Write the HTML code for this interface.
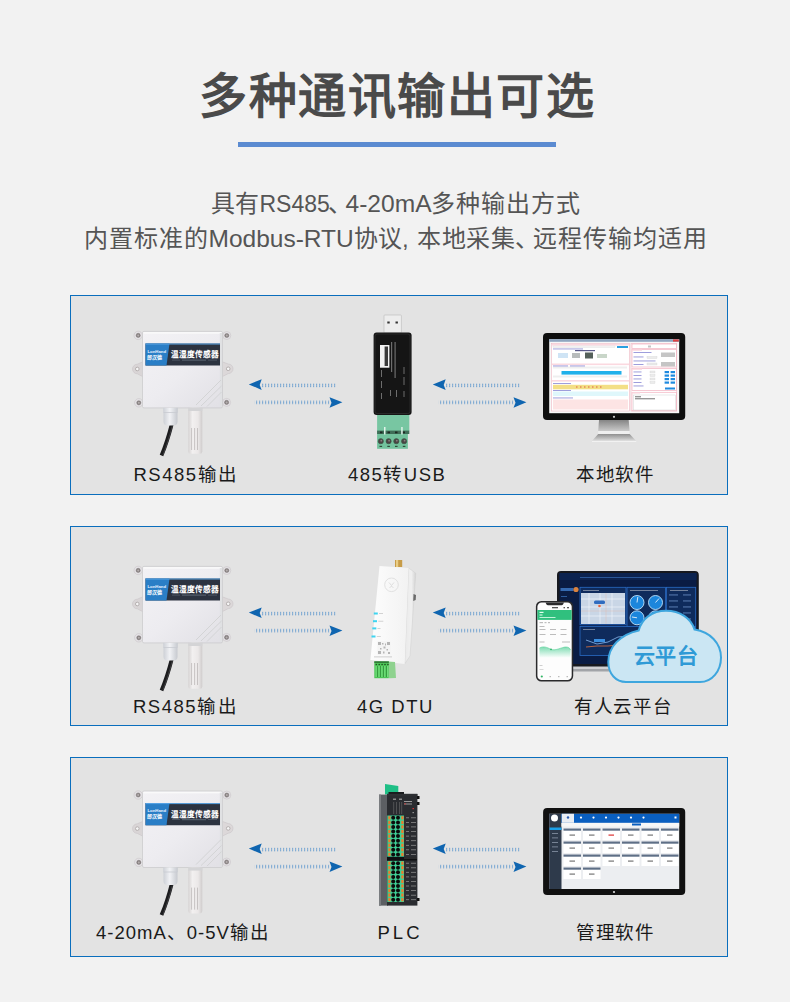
<!DOCTYPE html>
<html lang="zh-CN"><head><meta charset="utf-8">
<style>
html,body{margin:0;padding:0;}
body{width:790px;height:1002px;background:#f2f2f2;position:relative;overflow:hidden;font-family:"Liberation Sans",sans-serif;}
.t{position:absolute;white-space:nowrap;}
.title{left:199px;top:62px;font-size:48px;font-weight:bold;color:#4a4a4a;line-height:70px;letter-spacing:1.55px;}
.uline{position:absolute;left:238px;top:142px;width:318px;height:5px;background:#5b8bd1;}
.sub{font-size:24px;color:#555;line-height:30px;}
.panel{position:absolute;left:70px;width:656px;height:198px;border:1px solid #0a6ebd;background:#e3e3e3;}
.lab{font-size:18.5px;color:#1a1a1a;line-height:20px;letter-spacing:1.5px;}
svg{position:absolute;left:0;top:0;}
</style></head><body>
<div class="t title">多种通讯输出可选</div>
<div class="uline"></div>
<div class="t sub" style="left:210.5px;top:189px;">具有</div>
<div class="t sub" style="left:259.5px;top:189px;font-size:23px">RS485</div>
<div class="t sub" style="left:328px;top:189px;">、</div>
<div class="t sub" style="left:345.5px;top:189px;font-size:24.6px">4-20mA</div>
<div class="t sub" style="left:431px;top:189px;letter-spacing:1.1px">多种输出方式</div>
<div class="t sub" style="left:84px;top:224px;letter-spacing:1.1px">内置标准的</div>
<div class="t sub" style="left:208.5px;top:224px;font-size:24.5px">Modbus-RTU</div>
<div class="t sub" style="left:354px;top:224px;">协议,</div>
<div class="t sub" style="left:417px;top:224px;letter-spacing:0.5px">本地采集、</div>
<div class="t sub" style="left:532.5px;top:224px;letter-spacing:1.05px">远程传输均适用</div>

<div class="panel" style="top:295px"></div>
<div class="panel" style="top:526px"></div>
<div class="panel" style="top:757px"></div>

<div class="t lab" style="left:133.5px;top:465px;">RS485输出</div>
<div class="t lab" style="left:348px;top:465px;">485转USB</div>
<div class="t lab" style="left:576px;top:465px;letter-spacing:0.5px">本地软件</div>
<div class="t lab" style="left:133px;top:697px;">RS485输出</div>
<div class="t lab" style="left:357px;top:697px;">4G DTU</div>
<div class="t lab" style="left:574px;top:697px;letter-spacing:0.7px">有人云平台</div>
<div class="t lab" style="left:96px;top:923px;letter-spacing:1px">4-20mA、0-5V输出</div>
<div class="t lab" style="left:377.5px;top:923px;letter-spacing:3px">PLC</div>
<div class="t lab" style="left:576px;top:923px;letter-spacing:0.5px">管理软件</div>

<svg width="790" height="1002" viewBox="0 0 790 1002">
<defs>
<pattern id="dots" width="3" height="4" patternUnits="userSpaceOnUse">
<rect x="1" y="0.4" width="1.2" height="1.1" fill="#3f86c8"/>
<rect x="1" y="2.4" width="1.2" height="1.1" fill="#3f86c8"/>
</pattern>

<linearGradient id="boxg" x1="0" y1="0" x2="0.9" y2="1">
<stop offset="0" stop-color="#f3f2f5"/><stop offset="0.55" stop-color="#edecf0"/><stop offset="1" stop-color="#e2e1e6"/>
</linearGradient>
<linearGradient id="probeg" x1="0" y1="0" x2="1" y2="0">
<stop offset="0" stop-color="#d6d3d3"/><stop offset="0.3" stop-color="#f2f0f0"/><stop offset="0.7" stop-color="#ebe8e8"/><stop offset="1" stop-color="#cfcccc"/>
</linearGradient>
<linearGradient id="glandg" x1="0" y1="0" x2="1" y2="0">
<stop offset="0" stop-color="#cdd0d6"/><stop offset="0.45" stop-color="#f1f2f5"/><stop offset="1" stop-color="#c6c9cf"/>
</linearGradient>

</defs>
<!-- ARROWS -->
<g transform="translate(0 0)">
<path d="M248.8 384.4 L261.7 379.3 L259.7 384.9 L261.7 389.9 Z" fill="#0f65b0"/>
<rect x="261" y="383.6" width="75" height="3.6" fill="url(#dots)"/>
<rect x="254.5" y="400.6" width="75" height="3.6" fill="url(#dots)"/>
<path d="M342.4 402.3 L329.5 397.2 L331.5 402.8 L329.5 407.8 Z" fill="#0f65b0"/>
</g>
<g transform="translate(184 0)">
<path d="M248.8 384.4 L261.7 379.3 L259.7 384.9 L261.7 389.9 Z" fill="#0f65b0"/>
<rect x="261" y="383.6" width="75" height="3.6" fill="url(#dots)"/>
<rect x="254.5" y="400.6" width="75" height="3.6" fill="url(#dots)"/>
<path d="M342.4 402.3 L329.5 397.2 L331.5 402.8 L329.5 407.8 Z" fill="#0f65b0"/>
</g>
<g transform="translate(0 228.2)">
<path d="M248.8 384.4 L261.7 379.3 L259.7 384.9 L261.7 389.9 Z" fill="#0f65b0"/>
<rect x="261" y="383.6" width="75" height="3.6" fill="url(#dots)"/>
<rect x="254.5" y="400.6" width="75" height="3.6" fill="url(#dots)"/>
<path d="M342.4 402.3 L329.5 397.2 L331.5 402.8 L329.5 407.8 Z" fill="#0f65b0"/>
</g>
<g transform="translate(184 228.2)">
<path d="M248.8 384.4 L261.7 379.3 L259.7 384.9 L261.7 389.9 Z" fill="#0f65b0"/>
<rect x="261" y="383.6" width="75" height="3.6" fill="url(#dots)"/>
<rect x="254.5" y="400.6" width="75" height="3.6" fill="url(#dots)"/>
<path d="M342.4 402.3 L329.5 397.2 L331.5 402.8 L329.5 407.8 Z" fill="#0f65b0"/>
</g>
<g transform="translate(0 464.2)">
<path d="M248.8 384.4 L261.7 379.3 L259.7 384.9 L261.7 389.9 Z" fill="#0f65b0"/>
<rect x="261" y="383.6" width="75" height="3.6" fill="url(#dots)"/>
<rect x="254.5" y="400.6" width="75" height="3.6" fill="url(#dots)"/>
<path d="M342.4 402.3 L329.5 397.2 L331.5 402.8 L329.5 407.8 Z" fill="#0f65b0"/>
</g>
<g transform="translate(184 464.2)">
<path d="M248.8 384.4 L261.7 379.3 L259.7 384.9 L261.7 389.9 Z" fill="#0f65b0"/>
<rect x="261" y="383.6" width="75" height="3.6" fill="url(#dots)"/>
<rect x="254.5" y="400.6" width="75" height="3.6" fill="url(#dots)"/>
<path d="M342.4 402.3 L329.5 397.2 L331.5 402.8 L329.5 407.8 Z" fill="#0f65b0"/>
</g>
<!-- DEVICES -->
<g transform="translate(0 0)">
<g fill="#e4e2e5" stroke="#c9c5c7" stroke-width="0.6">
<circle cx="138.2" cy="335.4" r="4.2"/><circle cx="138.8" cy="402.8" r="4.2"/>
<circle cx="226.8" cy="335.5" r="4"/><circle cx="226.6" cy="402.4" r="4"/>
<path d="M143.5 361.5 L137.3 364.2 A4.8 4.8 0 0 0 137.3 373.8 L143.5 377 Z" fill="#d9d5d6"/>
<path d="M221.5 361.5 L228.2 364 A4.8 4.8 0 0 1 228.2 373.6 L221.5 377 Z" fill="#dcd8d9"/>
</g>
<g fill="#8a8484" stroke="#6e6868" stroke-width="0.4">
<circle cx="138.2" cy="335.4" r="2.1"/><circle cx="138.8" cy="402.8" r="2.1"/><circle cx="226.8" cy="335.5" r="2.1"/><circle cx="226.6" cy="402.4" r="2.1"/>
</g>
<g fill="#b4aeae"><circle cx="138.2" cy="335.4" r="1"/><circle cx="138.8" cy="402.8" r="1"/><circle cx="226.8" cy="335.5" r="1"/><circle cx="226.6" cy="402.4" r="1"/></g>
<g fill="#f6f6f6" stroke="#a9a3a3" stroke-width="0.8"><circle cx="137.3" cy="369" r="1.8"/><circle cx="228.2" cy="368.8" r="1.8"/></g>
<rect x="142.5" y="331.4" width="80" height="76.5" rx="1.5" fill="url(#boxg)" stroke="#cbcbcd" stroke-width="0.8"/>
<rect x="143.5" y="332.2" width="78" height="1.5" fill="#fafafa"/>
<rect x="219.8" y="333" width="2.2" height="74" fill="#e0e1e3"/>
<path d="M145.5 343.5 H220 V365.6 H145.5 Z" fill="#2c3340"/>
<path d="M145.5 343.5 H169.5 L166.5 365.6 H145.5 Z" fill="#2a7ec6"/>
<rect x="145.5" y="343.5" width="74.5" height="1" fill="#5aa6e6"/>
<text x="170.8" y="357" font-size="7.7" font-weight="bold" fill="#fff">温湿度传感器</text>
<rect x="172" y="359.8" width="8" height="0.5" fill="#6d7884"/><rect x="182" y="359.6" width="24" height="1" fill="#5d6874"/><rect x="208" y="359.8" width="9" height="0.5" fill="#6d7884"/>
<text x="147.5" y="352.5" font-size="4.3" font-weight="bold" fill="#e8f2ff">LonHand</text>
<text x="147" y="358.5" font-size="5" font-weight="bold" fill="#fff">郎汉德</text>
<g stroke="#d0d1d3" stroke-width="0.9" fill="none">
<path d="M196 405 L221 380"/><path d="M201 406 L221.5 386"/><path d="M207 406.5 L221.5 392"/>
</g>
<path d="M171.8 424 C 169.5 433, 165.5 446, 161.5 455.5" stroke="#1c1c1e" stroke-width="3.8" fill="none"/>
<path d="M172.3 426 C 170 435, 166.5 446, 163 455" stroke="#4a4a4e" stroke-width="0.7" fill="none"/>
<rect x="163.2" y="407.8" width="14.6" height="4.4" fill="url(#glandg)"/>
<path d="M163.5 412 H177.5 V421.5 Q177.5 425.5 173.5 425.5 H167.5 Q163.5 425.5 163.5 421.5 Z" fill="url(#glandg)"/>
<rect x="163.5" y="412" width="14" height="0.8" fill="#c8cbd1"/>
<path d="M188.3 407.8 H202.3 V451.5 Q202.3 453.8 200 453.8 H190.6 Q188.3 453.8 188.3 451.5 Z" fill="url(#probeg)"/>
<rect x="188.3" y="407.8" width="14" height="3.2" fill="#d4d4d6"/>
<g stroke="#bdb7b7" stroke-width="0.8"><path d="M191.6 428 V450"/><path d="M194.6 428 V450"/><path d="M197.5 428 V450"/></g>
</g>
<g transform="translate(0 235)">
<g fill="#e4e2e5" stroke="#c9c5c7" stroke-width="0.6">
<circle cx="138.2" cy="335.4" r="4.2"/><circle cx="138.8" cy="402.8" r="4.2"/>
<circle cx="226.8" cy="335.5" r="4"/><circle cx="226.6" cy="402.4" r="4"/>
<path d="M143.5 361.5 L137.3 364.2 A4.8 4.8 0 0 0 137.3 373.8 L143.5 377 Z" fill="#d9d5d6"/>
<path d="M221.5 361.5 L228.2 364 A4.8 4.8 0 0 1 228.2 373.6 L221.5 377 Z" fill="#dcd8d9"/>
</g>
<g fill="#8a8484" stroke="#6e6868" stroke-width="0.4">
<circle cx="138.2" cy="335.4" r="2.1"/><circle cx="138.8" cy="402.8" r="2.1"/><circle cx="226.8" cy="335.5" r="2.1"/><circle cx="226.6" cy="402.4" r="2.1"/>
</g>
<g fill="#b4aeae"><circle cx="138.2" cy="335.4" r="1"/><circle cx="138.8" cy="402.8" r="1"/><circle cx="226.8" cy="335.5" r="1"/><circle cx="226.6" cy="402.4" r="1"/></g>
<g fill="#f6f6f6" stroke="#a9a3a3" stroke-width="0.8"><circle cx="137.3" cy="369" r="1.8"/><circle cx="228.2" cy="368.8" r="1.8"/></g>
<rect x="142.5" y="331.4" width="80" height="76.5" rx="1.5" fill="url(#boxg)" stroke="#cbcbcd" stroke-width="0.8"/>
<rect x="143.5" y="332.2" width="78" height="1.5" fill="#fafafa"/>
<rect x="219.8" y="333" width="2.2" height="74" fill="#e0e1e3"/>
<path d="M145.5 343.5 H220 V365.6 H145.5 Z" fill="#2c3340"/>
<path d="M145.5 343.5 H169.5 L166.5 365.6 H145.5 Z" fill="#2a7ec6"/>
<rect x="145.5" y="343.5" width="74.5" height="1" fill="#5aa6e6"/>
<text x="170.8" y="357" font-size="7.7" font-weight="bold" fill="#fff">温湿度传感器</text>
<rect x="172" y="359.8" width="8" height="0.5" fill="#6d7884"/><rect x="182" y="359.6" width="24" height="1" fill="#5d6874"/><rect x="208" y="359.8" width="9" height="0.5" fill="#6d7884"/>
<text x="147.5" y="352.5" font-size="4.3" font-weight="bold" fill="#e8f2ff">LonHand</text>
<text x="147" y="358.5" font-size="5" font-weight="bold" fill="#fff">郎汉德</text>
<g stroke="#d0d1d3" stroke-width="0.9" fill="none">
<path d="M196 405 L221 380"/><path d="M201 406 L221.5 386"/><path d="M207 406.5 L221.5 392"/>
</g>
<path d="M171.8 424 C 169.5 433, 165.5 446, 161.5 455.5" stroke="#1c1c1e" stroke-width="3.8" fill="none"/>
<path d="M172.3 426 C 170 435, 166.5 446, 163 455" stroke="#4a4a4e" stroke-width="0.7" fill="none"/>
<rect x="163.2" y="407.8" width="14.6" height="4.4" fill="url(#glandg)"/>
<path d="M163.5 412 H177.5 V421.5 Q177.5 425.5 173.5 425.5 H167.5 Q163.5 425.5 163.5 421.5 Z" fill="url(#glandg)"/>
<rect x="163.5" y="412" width="14" height="0.8" fill="#c8cbd1"/>
<path d="M188.3 407.8 H202.3 V451.5 Q202.3 453.8 200 453.8 H190.6 Q188.3 453.8 188.3 451.5 Z" fill="url(#probeg)"/>
<rect x="188.3" y="407.8" width="14" height="3.2" fill="#d4d4d6"/>
<g stroke="#bdb7b7" stroke-width="0.8"><path d="M191.6 428 V450"/><path d="M194.6 428 V450"/><path d="M197.5 428 V450"/></g>
</g>
<g transform="translate(0 459.6)">
<g fill="#e4e2e5" stroke="#c9c5c7" stroke-width="0.6">
<circle cx="138.2" cy="335.4" r="4.2"/><circle cx="138.8" cy="402.8" r="4.2"/>
<circle cx="226.8" cy="335.5" r="4"/><circle cx="226.6" cy="402.4" r="4"/>
<path d="M143.5 361.5 L137.3 364.2 A4.8 4.8 0 0 0 137.3 373.8 L143.5 377 Z" fill="#d9d5d6"/>
<path d="M221.5 361.5 L228.2 364 A4.8 4.8 0 0 1 228.2 373.6 L221.5 377 Z" fill="#dcd8d9"/>
</g>
<g fill="#8a8484" stroke="#6e6868" stroke-width="0.4">
<circle cx="138.2" cy="335.4" r="2.1"/><circle cx="138.8" cy="402.8" r="2.1"/><circle cx="226.8" cy="335.5" r="2.1"/><circle cx="226.6" cy="402.4" r="2.1"/>
</g>
<g fill="#b4aeae"><circle cx="138.2" cy="335.4" r="1"/><circle cx="138.8" cy="402.8" r="1"/><circle cx="226.8" cy="335.5" r="1"/><circle cx="226.6" cy="402.4" r="1"/></g>
<g fill="#f6f6f6" stroke="#a9a3a3" stroke-width="0.8"><circle cx="137.3" cy="369" r="1.8"/><circle cx="228.2" cy="368.8" r="1.8"/></g>
<rect x="142.5" y="331.4" width="80" height="76.5" rx="1.5" fill="url(#boxg)" stroke="#cbcbcd" stroke-width="0.8"/>
<rect x="143.5" y="332.2" width="78" height="1.5" fill="#fafafa"/>
<rect x="219.8" y="333" width="2.2" height="74" fill="#e0e1e3"/>
<path d="M145.5 343.5 H220 V365.6 H145.5 Z" fill="#2c3340"/>
<path d="M145.5 343.5 H169.5 L166.5 365.6 H145.5 Z" fill="#2a7ec6"/>
<rect x="145.5" y="343.5" width="74.5" height="1" fill="#5aa6e6"/>
<text x="170.8" y="357" font-size="7.7" font-weight="bold" fill="#fff">温湿度传感器</text>
<rect x="172" y="359.8" width="8" height="0.5" fill="#6d7884"/><rect x="182" y="359.6" width="24" height="1" fill="#5d6874"/><rect x="208" y="359.8" width="9" height="0.5" fill="#6d7884"/>
<text x="147.5" y="352.5" font-size="4.3" font-weight="bold" fill="#e8f2ff">LonHand</text>
<text x="147" y="358.5" font-size="5" font-weight="bold" fill="#fff">郎汉德</text>
<g stroke="#d0d1d3" stroke-width="0.9" fill="none">
<path d="M196 405 L221 380"/><path d="M201 406 L221.5 386"/><path d="M207 406.5 L221.5 392"/>
</g>
<path d="M171.8 424 C 169.5 433, 165.5 446, 161.5 455.5" stroke="#1c1c1e" stroke-width="3.8" fill="none"/>
<path d="M172.3 426 C 170 435, 166.5 446, 163 455" stroke="#4a4a4e" stroke-width="0.7" fill="none"/>
<rect x="163.2" y="407.8" width="14.6" height="4.4" fill="url(#glandg)"/>
<path d="M163.5 412 H177.5 V421.5 Q177.5 425.5 173.5 425.5 H167.5 Q163.5 425.5 163.5 421.5 Z" fill="url(#glandg)"/>
<rect x="163.5" y="412" width="14" height="0.8" fill="#c8cbd1"/>
<path d="M188.3 407.8 H202.3 V451.5 Q202.3 453.8 200 453.8 H190.6 Q188.3 453.8 188.3 451.5 Z" fill="url(#probeg)"/>
<rect x="188.3" y="407.8" width="14" height="3.2" fill="#d4d4d6"/>
<g stroke="#bdb7b7" stroke-width="0.8"><path d="M191.6 428 V450"/><path d="M194.6 428 V450"/><path d="M197.5 428 V450"/></g>
</g>
<!-- USB converter -->
<g>
<rect x="384" y="315" width="17.4" height="18" rx="0.8" fill="#ededed" stroke="#b9b9b9" stroke-width="0.6"/>
<rect x="387.3" y="321.5" width="2.4" height="2" fill="#333"/>
<rect x="395.5" y="321.5" width="2.4" height="2" fill="#333"/>
<rect x="377.1" y="414" width="32.2" height="17" fill="#78c6a2"/>
<rect x="377.1" y="431" width="30.8" height="17.8" fill="#72c29d"/>
<rect x="377.1" y="430.6" width="32.2" height="3.4" fill="#3f6e58"/>
<g fill="#1c2a22"><rect x="380" y="431.5" width="2.5" height="1.8"/><rect x="387.5" y="431.5" width="2.5" height="1.8"/><rect x="395" y="431.5" width="2.5" height="1.8"/><rect x="402.5" y="431.5" width="2.5" height="1.8"/></g>
<g fill="#dff3e8"><rect x="384" y="427" width="1.5" height="7.5"/><rect x="401.2" y="427" width="1.5" height="7.5"/></g>
<g fill="#4a4444" stroke="#3a5a48" stroke-width="0.6">
<circle cx="380.8" cy="441.2" r="2.6"/><circle cx="388.6" cy="441.2" r="2.6"/><circle cx="396.3" cy="441.2" r="2.6"/><circle cx="404.1" cy="441.2" r="2.6"/>
</g>
<g fill="#8a8080"><circle cx="381.3" cy="440.7" r="0.9"/><circle cx="389.1" cy="440.7" r="0.9"/><circle cx="396.8" cy="440.7" r="0.9"/><circle cx="404.6" cy="440.7" r="0.9"/></g>
<g fill="#2f4a3a"><rect x="379.5" y="445.8" width="2.6" height="1.2"/><rect x="387.3" y="445.8" width="2.6" height="1.2"/><rect x="395" y="445.8" width="2.6" height="1.2"/><rect x="402.8" y="445.8" width="2.6" height="1.2"/></g>
<rect x="373.6" y="332.5" width="38" height="82.5" rx="3" fill="#151515"/>
<rect x="375" y="334" width="35" height="79.5" rx="2.2" fill="none" stroke="#2e2e2e" stroke-width="0.8"/>
<rect x="380" y="345" width="9.4" height="22.7" fill="#f2f2f2"/>
<rect x="384.6" y="346.5" width="3.4" height="19.5" fill="#3a3a3a"/>
<g fill="#777" opacity="0.9">
<rect x="391" y="342" width="1.2" height="30"/><rect x="394.5" y="342" width="1.2" height="36"/>
<rect x="403.5" y="367" width="1" height="7"/><rect x="403.5" y="377" width="1" height="8"/>
<rect x="381" y="370" width="1" height="7"/><rect x="381" y="381" width="1" height="7"/>
<rect x="381" y="393" width="1" height="6"/><rect x="390" y="390" width="1" height="6"/><rect x="396" y="390" width="1" height="7"/><rect x="403.5" y="391" width="1" height="6"/>
</g>
</g>

<!-- DTU -->
<g>
<linearGradient id="dtuside" x1="0" y1="0" x2="1" y2="0"><stop offset="0" stop-color="#e9e9e9"/><stop offset="0.6" stop-color="#f0f0f0"/><stop offset="1" stop-color="#d2d2d2"/></linearGradient>
<linearGradient id="dtufront" x1="0" y1="0" x2="1" y2="0"><stop offset="0" stop-color="#fdfdfd"/><stop offset="1" stop-color="#f2f2f2"/></linearGradient>
<rect x="395" y="560" width="7.2" height="7" fill="#c79c48"/>
<rect x="396" y="560" width="2.2" height="7" fill="#e9cd85"/>
<path d="M408.6 568 L415.8 573.2 L410 656 L404.7 664 Z" fill="url(#dtuside)" stroke="#cfcfcf" stroke-width="0.5"/>
<path d="M413.5 594 L416 595 L415.7 600 L413.2 601 Z" fill="#6a6a6a"/>
<path d="M379.5 566 L408.6 568 L404.7 664 L370.4 660 Z" fill="url(#dtufront)"/>
<circle cx="391.5" cy="584.8" r="6.8" fill="none" stroke="#dadada" stroke-width="0.8"/>
<path d="M389 582.5 L391.5 585.5 L394 582.5 M389.5 588 L391.5 586 L393.5 588" stroke="#cdcdcd" stroke-width="0.6" fill="none"/>
<g fill="#3fd4f0"><rect x="373.8" y="612.5" width="4" height="2"/><rect x="373" y="620.2" width="4" height="2"/><rect x="372.3" y="627.4" width="4" height="2"/><rect x="371.5" y="635.5" width="4" height="2"/></g>
<g fill="#c8c8c8"><rect x="379" y="613" width="4" height="0.8"/><rect x="378.3" y="620.8" width="5" height="0.8"/><rect x="377.5" y="628" width="3" height="0.8"/><rect x="376.8" y="636" width="4" height="0.8"/></g>
<rect x="377.5" y="641.3" width="13" height="13.6" fill="#f4f4f4"/>
<g fill="#b5b5b5">
<rect x="378" y="642" width="3" height="3"/><rect x="387" y="642" width="3" height="3"/><rect x="378" y="651" width="3" height="3"/>
<rect x="382" y="643" width="1.5" height="1.5"/><rect x="383.5" y="646.5" width="2" height="2"/><rect x="386.5" y="649" width="1.5" height="1.5"/><rect x="388" y="652" width="2" height="2"/><rect x="380" y="648" width="1.5" height="1.5"/><rect x="383" y="651.5" width="1.5" height="2"/><rect x="385" y="643.5" width="1" height="2"/>
</g>
<rect x="374" y="656.5" width="18" height="0.8" fill="#c4c4c4"/>
<path d="M388 661.4 L395 662 L396 678 L389 678.2 Z" fill="#8fd28f"/>
<rect x="374.3" y="661.4" width="14.5" height="16.8" fill="#4cc556"/>
<rect x="374.3" y="661.4" width="14.5" height="1.4" fill="#2a6a30"/>
<g fill="#1f4a22"><circle cx="376.3" cy="664.5" r="0.8"/><circle cx="379.2" cy="664.5" r="0.8"/><circle cx="382.1" cy="664.5" r="0.8"/><circle cx="385" cy="664.5" r="0.8"/><circle cx="387.9" cy="664.5" r="0.8"/></g>
<g fill="#2e8a38"><rect x="377.3" y="666" width="0.7" height="11"/><rect x="380.2" y="666" width="0.7" height="11"/><rect x="383.1" y="666" width="0.7" height="11"/><rect x="386" y="666" width="0.7" height="11"/></g>
<g fill="#7ae384"><rect x="375.6" y="666" width="1" height="11"/><rect x="378.5" y="666" width="1" height="11"/><rect x="381.4" y="666" width="1" height="11"/><rect x="384.3" y="666" width="1" height="11"/><rect x="387.2" y="666" width="1" height="11"/></g>
</g>
<!-- Laptop -->
<g>
<rect x="551.5" y="665.5" width="153" height="5.5" rx="2" fill="#cfd0d3"/>
<rect x="551.5" y="669" width="153" height="2.5" rx="1.2" fill="#a2a4a8"/>
<rect x="557" y="571" width="141.8" height="95.5" rx="4" fill="#17191f"/>
<rect x="559.5" y="573" width="137" height="91" fill="#0a1c44"/>
<rect x="559.5" y="573" width="137" height="7" fill="#0c2350"/>
<rect x="580" y="577" width="80" height="0.6" fill="#3f78c8"/>
<rect x="560.5" y="588" width="13" height="3" fill="#3569b0"/>
<circle cx="576" cy="589.5" r="2.6" fill="#d9823f"/>
<rect x="561" y="596" width="6" height="1" fill="#2c5a9a"/>
<g fill="#0f2b5c" stroke="#2a6bc4" stroke-width="0.8">
<rect x="580" y="587.3" width="46" height="37.5"/>
<rect x="627" y="587.3" width="38.5" height="40"/>
<rect x="666.4" y="587.3" width="29.3" height="43"/>
<rect x="580" y="626.5" width="115.5" height="29"/>
</g>
<rect x="581" y="593" width="44" height="31" fill="#c9d6e6"/>
<g stroke="#eef3f9" stroke-width="0.7"><path d="M581 599 H625"/><path d="M581 607 H625"/><path d="M581 616 H625"/><path d="M589 593 V624"/><path d="M600 593 V624"/><path d="M612 593 V624"/></g>
<g stroke="#e3b6a8" stroke-width="0.4"><path d="M581 611 H625"/><path d="M606 593 V624"/></g>
<rect x="594" y="600.5" width="11" height="3.6" rx="1.5" fill="#2f6cc0"/>
<circle cx="599.5" cy="606" r="1.3" fill="#e5633a"/>
<g fill="#1c86dc" stroke="#bfe2fb" stroke-width="0.9">
<circle cx="637" cy="602.5" r="7"/><circle cx="655.5" cy="602.5" r="7"/><circle cx="637" cy="617.8" r="7"/><circle cx="655.5" cy="617.8" r="7"/>
</g>
<g stroke="#fff" stroke-width="0.8"><path d="M637 602.5 L637.8 597"/><path d="M655.5 602.5 L659 598.5"/><path d="M637 617.8 L632 617"/></g>
<g fill="#f0f0f0" opacity="0.55"><rect x="583" y="590" width="16" height="0.8"/><rect x="630" y="590" width="28" height="0.8"/><rect x="670" y="590" width="18" height="0.8"/><rect x="583" y="629" width="12" height="0.8"/></g>
<g fill="#7fa6dc" opacity="0.75"><rect x="669" y="594.5" width="9" height="0.9"/><rect x="683" y="594.5" width="8" height="0.9"/><rect x="669" y="600.5" width="9" height="0.9"/><rect x="683" y="600.5" width="8" height="0.9"/><rect x="669" y="606.5" width="9" height="0.9"/><rect x="683" y="606.5" width="8" height="0.9"/><rect x="669" y="612.5" width="9" height="0.9"/><rect x="683" y="612.5" width="8" height="0.9"/><rect x="669" y="618.5" width="9" height="0.9"/><rect x="683" y="618.5" width="8" height="0.9"/><rect x="669" y="624.5" width="9" height="0.9"/><rect x="683" y="624.5" width="8" height="0.9"/></g>
<path d="M586 640 L597 644 L608 642 L618 637 L628 636" stroke="#8ab8ee" stroke-width="0.8" fill="none"/>
<path d="M586 647 L597 646 L608 646 L618 645 L628 643" stroke="#e0703a" stroke-width="0.8" fill="none"/>
<rect x="594" y="639" width="11" height="3" fill="#3a8ee0"/>
</g>
<!-- Phone -->
<g>
<linearGradient id="chartg" x1="0" y1="0" x2="0" y2="1"><stop offset="0" stop-color="#7fdcb3"/><stop offset="1" stop-color="#ffffff"/></linearGradient>
<rect x="535.9" y="600.9" width="37.3" height="80.6" rx="5.5" fill="#2a2a2c"/>
<rect x="537.4" y="602.4" width="34.3" height="77.6" rx="4.3" fill="#fdfdfd"/>
<path d="M545.5 602.4 H564 L563 604.5 Q562.5 605.3 561.5 605.3 H548 Q547 605.3 546.5 604.5 Z" fill="#2a2a2c"/>
<g fill="#555"><rect x="552" y="607" width="6" height="1.3"/><rect x="563.5" y="607" width="1.5" height="1.3"/><rect x="567" y="607" width="2" height="1.3"/></g>
<rect x="537.4" y="610" width="34.3" height="9.9" fill="#30c07e"/>
<g fill="#e6fff0"><rect x="539.5" y="611.8" width="4" height="1.2"/><rect x="539.5" y="614.5" width="3" height="1"/><rect x="539.5" y="617" width="16" height="0.8"/></g>
<g fill="#bdbdbd"><rect x="539.5" y="622" width="3.5" height="1.2"/><rect x="544.5" y="622" width="2" height="1.2"/><rect x="548" y="622" width="2" height="1.2"/><rect x="539.5" y="626" width="5" height="1"/>
<rect x="539.5" y="629" width="6" height="1"/><rect x="550" y="629" width="6" height="1"/><rect x="560.5" y="629" width="6" height="1"/>
<rect x="539.5" y="634" width="6" height="1"/><rect x="550" y="634" width="6" height="1"/><rect x="560.5" y="634" width="6" height="1"/>
<rect x="539.5" y="641.5" width="5" height="1"/><rect x="562" y="641.5" width="8" height="1"/></g>
<path d="M539.5 648 C 543 646, 547 647, 551 649.5 C 556 651, 562 647, 566 647 C 568 647, 570 648, 570.5 650 V 658 H539.5 Z" fill="url(#chartg)"/>
<path d="M539.5 648 C 543 646, 547 647, 551 649.5 C 556 651, 562 647, 566 647 C 568 647, 570 648, 570.5 650" stroke="#52cf94" stroke-width="0.6" fill="none"/>
<circle cx="551" cy="649.3" r="0.9" fill="#2fb36a"/>
<g fill="#cfcfcf"><rect x="539.5" y="665" width="3" height="1"/><rect x="539.5" y="669" width="4" height="0.8"/></g>
<circle cx="541.8" cy="676.5" r="1.1" fill="#2fb463"/>
<g fill="#bbb"><rect x="549.5" y="676" width="1.5" height="1.2"/><rect x="558" y="676" width="1.5" height="1.2"/><rect x="566.5" y="676" width="1.5" height="1.2"/></g>
</g>
<!-- Cloud -->
<path d="M626 682 C 616 682 608.3 674 608.3 662 C 608.3 647 620 634.5 638.7 630.4 C 642 618.5 652 610.8 666 610.8 C 680 610.8 691 618 694.6 629.6 C 710 632 721 643 721 657.5 C 721 671 712 682 700 682 Z" fill="#cbe6f3" stroke="#3ea6de" stroke-width="2"/>
<text x="633.5" y="662.5" font-size="21" font-weight="bold" fill="#2f9ad6" letter-spacing="0.5">云平台</text>

<!-- PLC -->
<g>
<path d="M385 784 L398.3 786 L398.3 794.5 L385 794.5 Z" fill="#1fbf86"/><rect x="388.5" y="792" width="15.5" height="2.5" fill="#1a1b1e"/>
<rect x="379" y="794.6" width="9" height="111" fill="#5c5f63"/>
<rect x="379" y="794.6" width="2" height="111" fill="#7a7d80"/>
<rect x="387" y="793.9" width="30.4" height="111.7" fill="#2a2c30"/>
<rect x="387" y="793.9" width="30.4" height="2" fill="#2e3034"/>
<rect x="417" y="796" width="2.5" height="3" fill="#111"/><rect x="417" y="802" width="2.5" height="3" fill="#111"/>
<rect x="417" y="898" width="2.5" height="3" fill="#111"/>
<g fill="#8a8a8a"><rect x="393" y="798.5" width="3" height="1.5"/><rect x="399" y="798.5" width="3" height="1.5"/></g>
<g fill="#6a6a6a"><rect x="393.5" y="802" width="0.6" height="12"/><rect x="396" y="802" width="0.6" height="12"/><rect x="399" y="802" width="0.6" height="12"/><rect x="401.5" y="802" width="0.6" height="12"/></g>
<rect x="404" y="801" width="8" height="1" fill="#999"/><rect x="404" y="803.5" width="8" height="1" fill="#999"/><rect x="404.5" y="803.2" width="1.2" height="1.2" fill="#d33"/>
<rect x="412.5" y="808" width="1.4" height="1.2" fill="#d33"/><rect x="412.5" y="812" width="1.4" height="1.2" fill="#999"/>
<rect x="387.3" y="815.5" width="16.7" height="41.2" fill="#3fcf95"/>
<rect x="387.3" y="860.9" width="16.7" height="41.1" fill="#3fcf95"/>
<rect x="388.3" y="816.2" width="2.2" height="3.2" fill="#f07a2a"/><rect x="401.3" y="816.2" width="2.2" height="3.2" fill="#f07a2a"/><circle cx="393.2" cy="817.8" r="2" fill="#0c0c0c"/><circle cx="398.0" cy="817.8" r="2" fill="#0c0c0c"/><rect x="388.3" y="820.8" width="2.2" height="3.2" fill="#f07a2a"/><rect x="401.3" y="820.8" width="2.2" height="3.2" fill="#f07a2a"/><circle cx="393.2" cy="822.4" r="2" fill="#0c0c0c"/><circle cx="398.0" cy="822.4" r="2" fill="#0c0c0c"/><rect x="388.3" y="825.3" width="2.2" height="3.2" fill="#f07a2a"/><rect x="401.3" y="825.3" width="2.2" height="3.2" fill="#f07a2a"/><circle cx="393.2" cy="826.9" r="2" fill="#0c0c0c"/><circle cx="398.0" cy="826.9" r="2" fill="#0c0c0c"/><rect x="388.3" y="829.9" width="2.2" height="3.2" fill="#f07a2a"/><rect x="401.3" y="829.9" width="2.2" height="3.2" fill="#f07a2a"/><circle cx="393.2" cy="831.5" r="2" fill="#0c0c0c"/><circle cx="398.0" cy="831.5" r="2" fill="#0c0c0c"/><rect x="388.3" y="834.5" width="2.2" height="3.2" fill="#f07a2a"/><rect x="401.3" y="834.5" width="2.2" height="3.2" fill="#f07a2a"/><circle cx="393.2" cy="836.1" r="2" fill="#0c0c0c"/><circle cx="398.0" cy="836.1" r="2" fill="#0c0c0c"/><rect x="388.3" y="839.1" width="2.2" height="3.2" fill="#f07a2a"/><rect x="401.3" y="839.1" width="2.2" height="3.2" fill="#f07a2a"/><circle cx="393.2" cy="840.7" r="2" fill="#0c0c0c"/><circle cx="398.0" cy="840.7" r="2" fill="#0c0c0c"/><rect x="388.3" y="843.7" width="2.2" height="3.2" fill="#f07a2a"/><rect x="401.3" y="843.7" width="2.2" height="3.2" fill="#f07a2a"/><circle cx="393.2" cy="845.3" r="2" fill="#0c0c0c"/><circle cx="398.0" cy="845.3" r="2" fill="#0c0c0c"/><rect x="388.3" y="848.2" width="2.2" height="3.2" fill="#f07a2a"/><rect x="401.3" y="848.2" width="2.2" height="3.2" fill="#f07a2a"/><circle cx="393.2" cy="849.8" r="2" fill="#0c0c0c"/><circle cx="398.0" cy="849.8" r="2" fill="#0c0c0c"/><rect x="388.3" y="852.8" width="2.2" height="3.2" fill="#f07a2a"/><rect x="401.3" y="852.8" width="2.2" height="3.2" fill="#f07a2a"/><circle cx="393.2" cy="854.4" r="2" fill="#0c0c0c"/><circle cx="398.0" cy="854.4" r="2" fill="#0c0c0c"/><rect x="388.3" y="861.6" width="2.2" height="3.2" fill="#f07a2a"/><rect x="401.3" y="861.6" width="2.2" height="3.2" fill="#f07a2a"/><circle cx="393.2" cy="863.2" r="2" fill="#0c0c0c"/><circle cx="398.0" cy="863.2" r="2" fill="#0c0c0c"/><rect x="388.3" y="866.1" width="2.2" height="3.2" fill="#f07a2a"/><rect x="401.3" y="866.1" width="2.2" height="3.2" fill="#f07a2a"/><circle cx="393.2" cy="867.8" r="2" fill="#0c0c0c"/><circle cx="398.0" cy="867.8" r="2" fill="#0c0c0c"/><rect x="388.3" y="870.7" width="2.2" height="3.2" fill="#f07a2a"/><rect x="401.3" y="870.7" width="2.2" height="3.2" fill="#f07a2a"/><circle cx="393.2" cy="872.3" r="2" fill="#0c0c0c"/><circle cx="398.0" cy="872.3" r="2" fill="#0c0c0c"/><rect x="388.3" y="875.3" width="2.2" height="3.2" fill="#f07a2a"/><rect x="401.3" y="875.3" width="2.2" height="3.2" fill="#f07a2a"/><circle cx="393.2" cy="876.9" r="2" fill="#0c0c0c"/><circle cx="398.0" cy="876.9" r="2" fill="#0c0c0c"/><rect x="388.3" y="879.9" width="2.2" height="3.2" fill="#f07a2a"/><rect x="401.3" y="879.9" width="2.2" height="3.2" fill="#f07a2a"/><circle cx="393.2" cy="881.5" r="2" fill="#0c0c0c"/><circle cx="398.0" cy="881.5" r="2" fill="#0c0c0c"/><rect x="388.3" y="884.4" width="2.2" height="3.2" fill="#f07a2a"/><rect x="401.3" y="884.4" width="2.2" height="3.2" fill="#f07a2a"/><circle cx="393.2" cy="886.0" r="2" fill="#0c0c0c"/><circle cx="398.0" cy="886.0" r="2" fill="#0c0c0c"/><rect x="388.3" y="889.0" width="2.2" height="3.2" fill="#f07a2a"/><rect x="401.3" y="889.0" width="2.2" height="3.2" fill="#f07a2a"/><circle cx="393.2" cy="890.6" r="2" fill="#0c0c0c"/><circle cx="398.0" cy="890.6" r="2" fill="#0c0c0c"/><rect x="388.3" y="893.5" width="2.2" height="3.2" fill="#f07a2a"/><rect x="401.3" y="893.5" width="2.2" height="3.2" fill="#f07a2a"/><circle cx="393.2" cy="895.1" r="2" fill="#0c0c0c"/><circle cx="398.0" cy="895.1" r="2" fill="#0c0c0c"/><rect x="388.3" y="898.1" width="2.2" height="3.2" fill="#f07a2a"/><rect x="401.3" y="898.1" width="2.2" height="3.2" fill="#f07a2a"/><circle cx="393.2" cy="899.7" r="2" fill="#0c0c0c"/><circle cx="398.0" cy="899.7" r="2" fill="#0c0c0c"/>
<rect x="406" y="817.4" width="3" height="0.8" fill="#8a8a8a"/><rect x="411" y="817.4" width="5" height="0.8" fill="#8a8a8a"/><rect x="406" y="822.0" width="3" height="0.8" fill="#8a8a8a"/><rect x="411" y="822.0" width="5" height="0.8" fill="#8a8a8a"/><rect x="406" y="826.5" width="3" height="0.8" fill="#8a8a8a"/><rect x="411" y="826.5" width="5" height="0.8" fill="#8a8a8a"/><rect x="406" y="831.1" width="3" height="0.8" fill="#8a8a8a"/><rect x="411" y="831.1" width="5" height="0.8" fill="#8a8a8a"/><rect x="406" y="835.7" width="3" height="0.8" fill="#8a8a8a"/><rect x="411" y="835.7" width="5" height="0.8" fill="#8a8a8a"/><rect x="406" y="840.3" width="3" height="0.8" fill="#8a8a8a"/><rect x="411" y="840.3" width="5" height="0.8" fill="#8a8a8a"/><rect x="406" y="844.9" width="3" height="0.8" fill="#8a8a8a"/><rect x="411" y="844.9" width="5" height="0.8" fill="#8a8a8a"/><rect x="406" y="849.4" width="3" height="0.8" fill="#8a8a8a"/><rect x="411" y="849.4" width="5" height="0.8" fill="#8a8a8a"/><rect x="406" y="854.0" width="3" height="0.8" fill="#8a8a8a"/><rect x="411" y="854.0" width="5" height="0.8" fill="#8a8a8a"/><rect x="406" y="862.8" width="3" height="0.8" fill="#8a8a8a"/><rect x="411" y="862.8" width="5" height="0.8" fill="#8a8a8a"/><rect x="406" y="867.4" width="3" height="0.8" fill="#8a8a8a"/><rect x="411" y="867.4" width="5" height="0.8" fill="#8a8a8a"/><rect x="406" y="871.9" width="3" height="0.8" fill="#8a8a8a"/><rect x="411" y="871.9" width="5" height="0.8" fill="#8a8a8a"/><rect x="406" y="876.5" width="3" height="0.8" fill="#8a8a8a"/><rect x="411" y="876.5" width="5" height="0.8" fill="#8a8a8a"/><rect x="406" y="881.1" width="3" height="0.8" fill="#8a8a8a"/><rect x="411" y="881.1" width="5" height="0.8" fill="#8a8a8a"/><rect x="406" y="885.6" width="3" height="0.8" fill="#8a8a8a"/><rect x="411" y="885.6" width="5" height="0.8" fill="#8a8a8a"/><rect x="406" y="890.2" width="3" height="0.8" fill="#8a8a8a"/><rect x="411" y="890.2" width="5" height="0.8" fill="#8a8a8a"/><rect x="406" y="894.8" width="3" height="0.8" fill="#8a8a8a"/><rect x="411" y="894.8" width="5" height="0.8" fill="#8a8a8a"/><rect x="406" y="899.3" width="3" height="0.8" fill="#8a8a8a"/><rect x="411" y="899.3" width="5" height="0.8" fill="#8a8a8a"/>
<rect x="387" y="857" width="30" height="3.5" fill="#0f1012"/>
<rect x="404" y="857.5" width="13" height="1" fill="#444"/>
</g>
<!-- Tablet -->
<g>
<rect x="543.1" y="808.1" width="142.1" height="87" rx="4" fill="#111"/>
<circle cx="614" cy="892" r="1.1" fill="#ddd"/>
<rect x="549.2" y="813.8" width="130" height="75.2" fill="#eceef1"/>
<rect x="549.2" y="813.8" width="12.3" height="75.2" fill="#2e3a4b"/>
<circle cx="554.5" cy="818" r="3.5" fill="#fff"/>
<rect x="549.5" y="827.5" width="12" height="2.5" fill="#1ba0ea"/>
<g fill="#8a96a8"><rect x="552" y="833" width="6" height="0.8"/><rect x="552" y="837.5" width="6" height="0.8"/><rect x="552" y="842" width="6" height="0.8"/><rect x="552" y="846.5" width="6" height="0.8"/><rect x="552" y="851" width="6" height="0.8"/></g>
<rect x="561.5" y="813.8" width="117.7" height="9" fill="#0a5fc0"/>
<rect x="562" y="813.8" width="12" height="9" fill="#e9edf3"/>
<circle cx="568" cy="817.5" r="1.2" fill="#2a5ab0"/>
<g fill="#fff"><circle cx="581" cy="817.6" r="1.1"/><circle cx="593.5" cy="817.6" r="1.1"/><circle cx="606" cy="817.6" r="1.1"/><circle cx="618.5" cy="817.6" r="1.1"/><circle cx="631" cy="817.6" r="1.1"/><circle cx="643.5" cy="817.6" r="1.1"/><rect x="674.5" y="816.5" width="2" height="2"/></g>
<rect x="561.5" y="823" width="117.7" height="3.5" fill="#f7f7f7"/>
<rect x="632" y="823.5" width="9" height="2" fill="#0a5fc0"/>
<rect x="563.5" y="828.5" width="17.5" height="11.5" fill="#fff"/><rect x="563.5" y="828.5" width="17.5" height="2.2" fill="#5e6f86"/><rect x="569.5" y="834.5" width="5.5" height="1.2" fill="#777"/><rect x="583" y="828.5" width="17.5" height="11.5" fill="#fff"/><rect x="583" y="828.5" width="17.5" height="2.2" fill="#5e6f86"/><rect x="589" y="834.5" width="5.5" height="1.2" fill="#777"/><rect x="602.5" y="828.5" width="17.5" height="11.5" fill="#fff"/><rect x="602.5" y="828.5" width="17.5" height="2.2" fill="#5e6f86"/><rect x="608.5" y="834.5" width="5.5" height="1.2" fill="#d33"/><rect x="622" y="828.5" width="17.5" height="11.5" fill="#fff"/><rect x="622" y="828.5" width="17.5" height="2.2" fill="#5e6f86"/><rect x="628" y="834.5" width="5.5" height="1.2" fill="#777"/><rect x="641.5" y="828.5" width="17.5" height="11.5" fill="#fff"/><rect x="641.5" y="828.5" width="17.5" height="2.2" fill="#5e6f86"/><rect x="647.5" y="834.5" width="5.5" height="1.2" fill="#777"/><rect x="661" y="828.5" width="17.5" height="11.5" fill="#fff"/><rect x="661" y="828.5" width="17.5" height="2.2" fill="#5e6f86"/><rect x="667" y="834.5" width="5.5" height="1.2" fill="#777"/><rect x="563.5" y="841.5" width="17.5" height="11.5" fill="#fff"/><rect x="563.5" y="841.5" width="17.5" height="2.2" fill="#5e6f86"/><rect x="569.5" y="847.5" width="5.5" height="1.2" fill="#777"/><rect x="583" y="841.5" width="17.5" height="11.5" fill="#fff"/><rect x="583" y="841.5" width="17.5" height="2.2" fill="#5e6f86"/><rect x="589" y="847.5" width="5.5" height="1.2" fill="#777"/><rect x="602.5" y="841.5" width="17.5" height="11.5" fill="#fff"/><rect x="602.5" y="841.5" width="17.5" height="2.2" fill="#5e6f86"/><rect x="608.5" y="847.5" width="5.5" height="1.2" fill="#777"/><rect x="622" y="841.5" width="17.5" height="11.5" fill="#fff"/><rect x="622" y="841.5" width="17.5" height="2.2" fill="#5e6f86"/><rect x="628" y="847.5" width="5.5" height="1.2" fill="#777"/><rect x="641.5" y="841.5" width="17.5" height="11.5" fill="#fff"/><rect x="641.5" y="841.5" width="17.5" height="2.2" fill="#5e6f86"/><rect x="647.5" y="847.5" width="5.5" height="1.2" fill="#777"/><rect x="661" y="841.5" width="17.5" height="11.5" fill="#fff"/><rect x="661" y="841.5" width="17.5" height="2.2" fill="#5e6f86"/><rect x="667" y="847.5" width="5.5" height="1.2" fill="#777"/><rect x="563.5" y="854.5" width="17.5" height="11.5" fill="#fff"/><rect x="563.5" y="854.5" width="17.5" height="2.2" fill="#5e6f86"/><rect x="569.5" y="860.5" width="5.5" height="1.2" fill="#777"/><rect x="583" y="854.5" width="17.5" height="11.5" fill="#fff"/><rect x="583" y="854.5" width="17.5" height="2.2" fill="#5e6f86"/><rect x="589" y="860.5" width="5.5" height="1.2" fill="#777"/><rect x="602.5" y="854.5" width="17.5" height="11.5" fill="#fff"/><rect x="602.5" y="854.5" width="17.5" height="2.2" fill="#5e6f86"/><rect x="608.5" y="860.5" width="5.5" height="1.2" fill="#777"/><rect x="622" y="854.5" width="17.5" height="11.5" fill="#fff"/><rect x="622" y="854.5" width="17.5" height="2.2" fill="#5e6f86"/><rect x="628" y="860.5" width="5.5" height="1.2" fill="#777"/><rect x="641.5" y="854.5" width="17.5" height="11.5" fill="#fff"/><rect x="641.5" y="854.5" width="17.5" height="2.2" fill="#5e6f86"/><rect x="647.5" y="860.5" width="5.5" height="1.2" fill="#777"/><rect x="661" y="854.5" width="17.5" height="11.5" fill="#fff"/><rect x="661" y="854.5" width="17.5" height="2.2" fill="#5e6f86"/><rect x="667" y="860.5" width="5.5" height="1.2" fill="#777"/><rect x="563.5" y="867.5" width="17.5" height="11.5" fill="#fff"/><rect x="563.5" y="867.5" width="17.5" height="2.2" fill="#5e6f86"/><rect x="569.5" y="873.5" width="5.5" height="1.2" fill="#777"/><rect x="583" y="867.5" width="17.5" height="11.5" fill="#fff"/><rect x="583" y="867.5" width="17.5" height="2.2" fill="#5e6f86"/><rect x="589" y="873.5" width="5.5" height="1.2" fill="#777"/></g>
<!-- Monitor -->
<g>
<linearGradient id="standg" x1="0" y1="0" x2="0" y2="1">
<stop offset="0" stop-color="#858585"/><stop offset="1" stop-color="#c9c9c9"/>
</linearGradient>
<linearGradient id="baseg" x1="0" y1="0" x2="0" y2="1">
<stop offset="0" stop-color="#8f8f8f"/><stop offset="0.7" stop-color="#c5c5c5"/><stop offset="1" stop-color="#e2e2e2"/>
</linearGradient>
<path d="M599 420 H628.7 L629.6 431 H598.2 Z" fill="url(#standg)"/>
<rect x="598.2" y="431" width="31.4" height="3" fill="#efefef"/>
<path d="M598.2 434 H629.6 L636.2 441 H592 Z" fill="url(#baseg)"/>
<rect x="592" y="441" width="44.2" height="1" fill="#f2f2f2"/>
<rect x="543" y="333" width="142.2" height="87" rx="4" fill="#0e0e0e"/>
<circle cx="614" cy="416.8" r="1.1" fill="#d0d0d0"/>
<rect x="549.2" y="339.2" width="130" height="74" fill="#f7f7f7"/>
<rect x="549.2" y="339.2" width="130" height="2.6" fill="#8fa6c0"/>
<rect x="673" y="339.4" width="5.8" height="2.2" fill="#e04040"/>
<rect x="551.5" y="343.5" width="78" height="67.5" fill="#fff" stroke="#f0b8c4" stroke-width="0.6"/>
<rect x="631" y="343.5" width="45.7" height="67.5" fill="#fff" stroke="#f0b8c4" stroke-width="0.6"/>
<rect x="552" y="344" width="77" height="19.5" fill="#fff"/>
<rect x="552" y="344" width="77" height="1.6" fill="#fbd9e0"/>
<rect x="553" y="346" width="62" height="1.3" fill="#f7f7f7" stroke="#ccc" stroke-width="0.3"/>
<rect x="617" y="346" width="11" height="2" fill="#2aa0e0"/>
<g><rect x="558" y="353" width="10" height="5" fill="#cfe4f5"/><rect x="572" y="353" width="8" height="5" fill="#b8bcbc"/><rect x="585" y="352.5" width="8" height="6" fill="#54605a"/><rect x="597" y="354" width="10" height="4" fill="#c9d6c9"/></g>
<rect x="575" y="350" width="20" height="1.2" fill="#5a5a8a"/>
<rect x="552" y="363.5" width="77" height="1.6" fill="#fbd9e0"/>
<rect x="553" y="366.5" width="74" height="2" fill="#efefef"/>
<rect x="561.5" y="371" width="60" height="3.6" fill="#1fb0ea"/>
<rect x="553" y="375.5" width="74" height="2" fill="#efefef"/>
<rect x="552" y="380" width="77" height="1.6" fill="#fbd9e0"/>
<rect x="553" y="384.8" width="75" height="4.5" fill="#f3df86"/>
<g fill="#e06040"><rect x="576" y="386.5" width="1.5" height="1"/><rect x="580" y="386.5" width="1.5" height="1"/><rect x="584" y="386.5" width="1.5" height="1"/><rect x="588" y="386.5" width="1.5" height="1"/><rect x="592" y="386.5" width="1.5" height="1"/><rect x="596" y="386.5" width="1.5" height="1"/><rect x="600" y="386.5" width="1.5" height="1"/></g>
<rect x="553" y="391.5" width="75" height="4.5" fill="#dff7fb"/>
<rect x="553" y="399.5" width="75" height="10" fill="#fde4e4"/>
<g fill="none" stroke="#f3b3c0" stroke-width="0.7">
<rect x="632" y="344" width="44.5" height="4.5"/><rect x="632" y="349.5" width="44.5" height="17.5"/><rect x="632" y="368.5" width="44.5" height="22"/><rect x="632" y="392.3" width="44.5" height="18.5"/>
</g>
<g fill="#fbd9e0"><rect x="632" y="349.5" width="10" height="1.3"/><rect x="632" y="368.5" width="10" height="1.3"/><rect x="632" y="392.3" width="8" height="1.3"/></g>
<g fill="#c5c5c5"><rect x="661" y="352.5" width="14" height="4.5"/><rect x="661" y="362" width="14" height="4.5"/><rect x="648" y="345.5" width="3" height="2"/></g>
<g fill="#ececec" stroke="#ccc" stroke-width="0.3"><rect x="647" y="356.5" width="10" height="2"/><rect x="647" y="363" width="10" height="2"/><rect x="650" y="371" width="5" height="2"/><rect x="650" y="374.5" width="5" height="2"/><rect x="650" y="378" width="5" height="2"/><rect x="650" y="381.5" width="5" height="2"/></g>
<g fill="#1f8ae0"><rect x="664.6" y="371" width="4.4" height="2.2"/><rect x="670.6" y="371" width="4.4" height="2.2"/><rect x="664.6" y="374.5" width="4.4" height="2.2"/><rect x="670.6" y="374.5" width="4.4" height="2.2"/><rect x="664.6" y="378" width="4.4" height="2.2"/><rect x="670.6" y="378" width="4.4" height="2.2"/><rect x="664.6" y="381.5" width="4.4" height="2.2"/><rect x="670.6" y="381.5" width="4.4" height="2.2"/><rect x="665" y="387.5" width="10" height="2"/></g>
<g fill="#7a7ad0" opacity="0.8"><rect x="633.5" y="352" width="18" height="0.9"/><rect x="633.5" y="356.5" width="10" height="0.9"/><rect x="633.5" y="360.5" width="22" height="0.9"/><rect x="633.5" y="364" width="10" height="0.9"/><rect x="633.5" y="371.5" width="8" height="0.9"/><rect x="633.5" y="375" width="8" height="0.9"/><rect x="633.5" y="378.5" width="8" height="0.9"/><rect x="633.5" y="382" width="8" height="0.9"/><rect x="633.5" y="385.5" width="10" height="0.9"/><rect x="553" y="383" width="18" height="0.9"/><rect x="553" y="390" width="18" height="0.9"/><rect x="553" y="397.5" width="20" height="0.9"/><rect x="553" y="348.5" width="30" height="0.9"/><rect x="553" y="365.5" width="15" height="0.9"/><rect x="570" y="365.5" width="15" height="0.9"/></g>
<rect x="633.3" y="395" width="42" height="15" fill="#fff" stroke="#c8c8c8" stroke-width="0.4"/>
<g fill="#333"><rect x="635" y="396.5" width="6" height="0.7"/><rect x="635" y="398.5" width="20" height="0.7"/></g>

</g>

</svg>
</body></html>
